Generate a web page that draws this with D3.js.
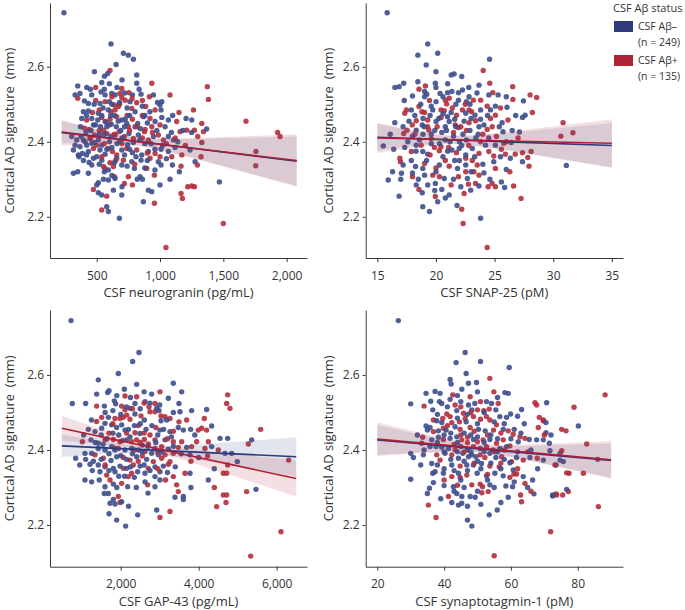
<!DOCTYPE html>
<html><head><meta charset="utf-8">
<script src="https://cdn.jsdelivr.net/npm/d3@7"></script>
<style>
body{margin:0;background:#fff}
svg{display:block}
text{font-family:"Open Sans",sans-serif;fill:#333}
</style>
</head><body>
<svg id="chart" width="685" height="610"></svg>
<script>
// ---------- DATA ----------
const groups = ["neg", "pos"];
const groupLabels = [["CSF A\u03b2\u2013", "(n = 249)"], ["CSF A\u03b2+", "(n = 135)"]];
const legendTitle = "CSF A\u03b2 status";
const yLabel = "Cortical AD signature  (mm)";
const yTicks = [2.2, 2.4, 2.6];

const xLabels = ["CSF neurogranin (pg/mL)", "CSF SNAP-25 (pM)", "CSF GAP-43 (pg/mL)", "CSF synaptotagmin-1 (pM)"];
const neurograninTicks = [500, 1000, 1500, 2000];
const snapTicks = [15, 20, 25, 30, 35];
const gapTicks = [2000, 4000, 6000];
const sytTicks = [20, 40, 60, 80];

const neurograninNeg = [[241,2.744],[613,2.661],[711,2.636],[750,2.631],[790,2.620],[653,2.606],[587,2.582],[561,2.575],[482,2.587],[816,2.578],[350,2.549],[421,2.545],[540,2.558],[534,2.533],[816,2.556],[835,2.540],[850,2.527],[782,2.525],[329,2.525],[368,2.529],[461,2.525],[566,2.525],[619,2.529],[645,2.525],[403,2.509],[434,2.502],[526,2.502],[600,2.507],[763,2.507],[948,2.525],[1014,2.507],[1000,2.498],[1008,2.485],[395,2.480],[434,2.482],[513,2.476],[592,2.485],[803,2.480],[382,2.462],[461,2.462],[508,2.458],[698,2.458],[737,2.449],[824,2.449],[869,2.467],[961,2.454],[1014,2.465],[1066,2.458],[1206,2.462],[1251,2.458],[474,2.445],[803,2.440],[303,2.414],[342,2.405],[376,2.414],[408,2.400],[447,2.409],[513,2.405],[613,2.414],[645,2.418],[755,2.422],[829,2.418],[948,2.414],[1066,2.414],[1106,2.405],[329,2.391],[368,2.387],[421,2.391],[461,2.396],[540,2.391],[316,2.378],[355,2.365],[387,2.369],[434,2.374],[526,2.378],[566,2.367],[698,2.378],[782,2.371],[856,2.365],[908,2.374],[1008,2.380],[1066,2.374],[1119,2.385],[1237,2.378],[1277,2.347],[395,2.350],[474,2.356],[540,2.351],[658,2.356],[777,2.347],[850,2.351],[987,2.347],[316,2.316],[350,2.320],[434,2.316],[461,2.338],[592,2.325],[698,2.338],[798,2.329],[842,2.307],[1008,2.338],[1098,2.338],[1153,2.320],[500,2.285],[513,2.291],[553,2.300],[592,2.298],[645,2.302],[861,2.300],[908,2.271],[935,2.267],[1000,2.285],[1079,2.300],[513,2.264],[540,2.258],[632,2.271],[698,2.258],[579,2.227],[592,2.214],[679,2.196],[869,2.240],[1469,2.293],[1368,2.434],[580,2.440],[680,2.400],[720,2.440],[880,2.395],[640,2.470],[560,2.420],
[372,2.440],[415,2.425],[455,2.430],[490,2.445],[530,2.440],[575,2.452],[615,2.447],[655,2.440],[690,2.430],[725,2.460],[760,2.470],[845,2.435],[900,2.450],[975,2.430],[1040,2.440],[1090,2.425],[395,2.405],[480,2.398],[520,2.420],[600,2.400],[660,2.395],[700,2.410],[745,2.392],[790,2.398],[840,2.405],[930,2.395],[1020,2.390],[1140,2.400],[360,2.360],[420,2.365],[500,2.360],[580,2.380],[620,2.385],[720,2.365],[760,2.380],[810,2.360],[900,2.350],[960,2.380],[1050,2.355],[440,2.345],[520,2.340],[640,2.345],[740,2.335],[880,2.330],[960,2.325],[480,2.500],[550,2.490],[620,2.500],[680,2.505],[740,2.490],[860,2.495],[920,2.480],[560,2.540],[660,2.545],[720,2.530],[450,2.540],[600,2.555],[700,2.565],[610,2.470],[670,2.455],[540,2.470],[420,2.470],[880,2.470],[980,2.505],[1100,2.470],[1180,2.430],[1250,2.425],[560,2.320],[620,2.310],[820,2.300],[700,2.280]];
const neurograninPos = [[605,2.590],[492,2.545],[698,2.542],[755,2.531],[684,2.529],[698,2.518],[935,2.556],[350,2.516],[492,2.510],[566,2.507],[640,2.498],[671,2.494],[724,2.511],[816,2.504],[861,2.510],[887,2.494],[916,2.520],[961,2.485],[1079,2.525],[1150,2.478],[1264,2.485],[466,2.478],[613,2.480],[645,2.485],[777,2.489],[421,2.458],[540,2.465],[566,2.454],[605,2.460],[658,2.467],[782,2.460],[921,2.462],[1132,2.454],[1330,2.449],[403,2.436],[440,2.433],[750,2.440],[882,2.433],[935,2.440],[482,2.418],[553,2.431],[579,2.422],[677,2.427],[719,2.414],[790,2.409],[877,2.427],[908,2.405],[987,2.418],[1027,2.405],[1158,2.427],[1211,2.431],[1272,2.431],[1298,2.414],[1343,2.427],[500,2.391],[474,2.382],[592,2.382],[624,2.374],[658,2.365],[737,2.382],[816,2.378],[961,2.369],[1172,2.365],[1324,2.360],[605,2.344],[711,2.351],[921,2.356],[1093,2.360],[553,2.334],[566,2.329],[632,2.334],[640,2.307],[750,2.307],[895,2.329],[956,2.311],[1166,2.335],[719,2.289],[782,2.285],[474,2.273],[579,2.255],[1219,2.280],[1251,2.282],[1272,2.280],[1166,2.262],[1177,2.249],[540,2.218],[956,2.236],[1374,2.547],[1382,2.513],[1679,2.455],[1500,2.182],[1758,2.374],[1756,2.336],[1929,2.425],[1948,2.414],[1047,2.118],[1330,2.398],[1295,2.338],
[520,2.430],[600,2.445],[640,2.420],[700,2.395],[760,2.430],[820,2.440],[860,2.410],[940,2.425],[1000,2.445],[1050,2.395],[560,2.395],[450,2.410],[680,2.500],[780,2.515],[860,2.470],[900,2.370],[1000,2.360],[1120,2.410],[650,2.350],[800,2.340],[540,2.360],[1200,2.390],[740,2.470],[620,2.520],[520,2.485]];

const snapNeg = [[15.84,2.744],[19.3,2.661],[18.46,2.631],[20.15,2.636],[19.17,2.605],[20.0,2.587],[21.3,2.578],[21.55,2.581],[22.2,2.574],[24.57,2.620],[16.5,2.545],[16.86,2.547],[17.25,2.556],[18.46,2.560],[19.95,2.556],[19.03,2.534],[19.22,2.527],[18.0,2.522],[20.35,2.529],[20.99,2.531],[21.36,2.534],[21.92,2.531],[22.26,2.538],[23.67,2.551],[24.51,2.525],[27.46,2.509],[27.6,2.471],[27.38,2.465],[26.06,2.492],[25.64,2.451],[24.65,2.485],[25.07,2.495],[22.82,2.520],[22.6,2.507],[21.92,2.511],[20.01,2.507],[19.03,2.520],[17.9,2.485],[19.73,2.485],[21.3,2.478],[22.54,2.476],[23.33,2.471],[23.81,2.485],[16.49,2.451],[17.2,2.440],[18.32,2.431],[18.83,2.445],[20.01,2.454],[20.24,2.462],[20.99,2.467],[21.13,2.454],[20.8,2.440],[23.67,2.440],[24.09,2.445],[25.72,2.427],[26.42,2.398],[27.38,2.347],[27.12,2.426],[26.34,2.356],[25.07,2.391],[24.23,2.391],[23.1,2.382],[22.54,2.365],[21.98,2.382],[21.36,2.378],[20.8,2.405],[19.3,2.367],[18.88,2.374],[18.32,2.391],[17.34,2.385],[15.51,2.389],[17.2,2.338],[18.26,2.334],[18.88,2.329],[20.29,2.338],[21.84,2.329],[22.54,2.338],[24.93,2.347],[26.0,2.326],[24.09,2.317],[22.68,2.302],[20.71,2.302],[19.03,2.311],[18.0,2.317],[17.06,2.316],[16.3,2.320],[15.93,2.298],[18.32,2.285],[18.83,2.264],[19.3,2.285],[19.95,2.289],[21.13,2.258],[20.5,2.273],[22.12,2.280],[23.67,2.282],[22.96,2.271],[25.58,2.293],[25.86,2.278],[16.86,2.255],[18.88,2.227],[19.45,2.214],[20.15,2.240],[23.81,2.196],[31.12,2.337],[19.6,2.420],[20.5,2.425],[21.5,2.415],[22.3,2.420],[19.0,2.440],[21.7,2.440],[22.9,2.430],[20.3,2.395],[21.0,2.375],[18.6,2.405],[22.0,2.400],[23.4,2.410],
[18.2,2.470],[18.9,2.462],[19.5,2.470],[20.6,2.475],[21.6,2.460],[22.4,2.455],[23.0,2.462],[23.8,2.460],[24.4,2.470],[17.7,2.455],[18.0,2.415],[18.9,2.420],[19.9,2.430],[20.9,2.430],[21.2,2.400],[22.6,2.405],[23.6,2.420],[24.5,2.410],[25.4,2.440],[17.6,2.400],[18.3,2.375],[19.6,2.395],[20.6,2.360],[21.6,2.350],[22.2,2.390],[23.3,2.360],[24.0,2.340],[17.9,2.350],[19.2,2.350],[20.0,2.320],[21.5,2.300],[23.0,2.320],[19.6,2.495],[20.6,2.520],[21.7,2.500],[22.9,2.500],[23.5,2.530],[18.7,2.500],[17.3,2.510],[20.0,2.545],[21.0,2.555],[22.8,2.545],[26.5,2.430],[26.8,2.470],[25.5,2.360],[24.6,2.300],[19.9,2.270],[20.8,2.250],[21.8,2.230],[17.0,2.300],[16.4,2.380],[16.1,2.420],[26.0,2.520],[25.3,2.525],[18.5,2.300],[22.0,2.350]];
const snapPos = [[24.03,2.590],[19.1,2.549],[18.55,2.540],[24.59,2.556],[24.85,2.531],[26.54,2.547],[26.56,2.513],[28.03,2.525],[28.59,2.518],[28.22,2.478],[26.14,2.458],[25.07,2.471],[24.37,2.495],[23.81,2.511],[23.19,2.511],[21.13,2.516],[20.8,2.511],[20.91,2.501],[19.45,2.510],[17.48,2.485],[17.34,2.476],[18.55,2.494],[19.03,2.478],[20.43,2.485],[20.71,2.483],[21.75,2.471],[22.26,2.485],[22.82,2.485],[23.04,2.480],[17.53,2.431],[17.25,2.422],[17.98,2.445],[18.32,2.456],[19.3,2.458],[19.3,2.440],[19.39,2.431],[20.43,2.465],[21.64,2.445],[21.92,2.438],[22.12,2.440],[22.82,2.451],[23.38,2.456],[24.37,2.433],[24.65,2.462],[25.16,2.414],[25.78,2.396],[25.58,2.380],[25.92,2.367],[26.76,2.367],[27.38,2.371],[28.11,2.374],[27.83,2.358],[27.94,2.335],[24.93,2.362],[24.51,2.374],[23.67,2.369],[22.54,2.356],[21.75,2.371],[21.08,2.385],[20.43,2.387],[20.29,2.376],[19.87,2.385],[18.74,2.391],[17.9,2.374],[16.92,2.356],[16.97,2.347],[19.03,2.342],[21.13,2.335],[23.52,2.338],[25.07,2.329],[23.24,2.320],[22.54,2.320],[21.92,2.307],[23.67,2.311],[20.29,2.307],[19.73,2.311],[18.0,2.307],[18.55,2.273],[21.3,2.285],[22.77,2.287],[23.38,2.289],[22.4,2.262],[24.45,2.280],[24.79,2.289],[25.07,2.280],[26.62,2.282],[27.26,2.249],[19.95,2.254],[22.2,2.220],[22.32,2.182],[30.84,2.451],[30.65,2.415],[31.68,2.424],[24.37,2.118],
[18.2,2.420],[19.6,2.408],[20.1,2.440],[21.5,2.425],[22.6,2.430],[23.8,2.400],[22.8,2.390],[24.0,2.420],[19.5,2.365],[20.8,2.350],[23.1,2.350],[21.4,2.490],[22.5,2.500],[24.8,2.440],[26.0,2.400],[20.0,2.330],[18.8,2.480],[25.5,2.490],[27.0,2.410],[26.3,2.320]];

const gapNeg = [[726,2.745],[2469,2.660],[2306,2.636],[1939,2.604],[1426,2.587],[3349,2.578],[1383,2.549],[1665,2.553],[1700,2.558],[2093,2.562],[2409,2.575],[2794,2.549],[3563,2.555],[759,2.524],[1101,2.524],[1580,2.517],[1836,2.531],[1871,2.523],[2238,2.511],[2366,2.524],[2623,2.529],[2922,2.511],[2982,2.505],[3221,2.538],[3494,2.524],[3520,2.502],[3819,2.505],[4204,2.508],[1683,2.487],[2366,2.496],[2606,2.480],[3178,2.480],[3033,2.478],[3794,2.455],[3606,2.453],[3477,2.460],[4332,2.464],[4546,2.431],[4743,2.431],[4332,2.409],[4674,2.391],[4845,2.391],[3777,2.387],[3691,2.407],[3264,2.449],[3136,2.427],[3007,2.453],[2495,2.444],[2238,2.435],[2110,2.453],[2024,2.467],[1896,2.460],[1768,2.467],[1597,2.471],[1512,2.458],[1341,2.449],[1170,2.455],[1238,2.427],[1426,2.418],[2153,2.427],[2554,2.413],[2879,2.404],[3221,2.402],[2965,2.387],[2794,2.391],[2452,2.400],[2281,2.404],[2110,2.400],[1768,2.409],[1597,2.400],[1426,2.404],[1255,2.391],[1084,2.391],[845,2.378],[1101,2.375],[1751,2.372],[1896,2.382],[2409,2.382],[2665,2.375],[3093,2.357],[2879,2.355],[2495,2.357],[2153,2.351],[1982,2.357],[1811,2.351],[1597,2.355],[1426,2.360],[1213,2.362],[1272,2.345],[1469,2.342],[1853,2.342],[2435,2.342],[2623,2.338],[2879,2.329],[3007,2.342],[3777,2.338],[4247,2.320],[1084,2.320],[1255,2.315],[1597,2.302],[1811,2.309],[2349,2.327],[2178,2.302],[2623,2.315],[2879,2.302],[3007,2.320],[3606,2.276],[3606,2.268],[3392,2.274],[1580,2.284],[1683,2.284],[1811,2.268],[2024,2.262],[1853,2.256],[1726,2.258],[2922,2.240],[2435,2.227],[1897,2.213],[2127,2.197],[5469,2.295],[5358,2.427],[4990,2.369],
[1500,2.440],[1650,2.430],[1800,2.445],[1950,2.440],[2050,2.425],[2200,2.455],[2350,2.465],[2500,2.470],[2650,2.455],[2800,2.465],[2950,2.440],[3100,2.455],[3300,2.435],[1350,2.420],[1550,2.415],[1700,2.390],[1850,2.400],[2000,2.385],[2150,2.375],[2300,2.390],[2550,2.395],[2700,2.410],[2900,2.420],[3050,2.395],[3350,2.410],[3550,2.390],[1300,2.370],[1500,2.375],[1700,2.345],[1950,2.330],[2100,2.330],[2250,2.355],[2600,2.360],[2750,2.345],[3200,2.340],[3400,2.355],[1450,2.320],[1900,2.300],[2400,2.300],[2700,2.285],[1600,2.500],[1800,2.505],[2000,2.495],[2150,2.515],[2500,2.510],[2750,2.525],[3000,2.520],[3350,2.500],[1900,2.545],[2250,2.540],[2600,2.555],[1250,2.480],[1050,2.440],[950,2.360],[3900,2.440],[4000,2.380],[4400,2.350],[3800,2.300],[1700,2.230],[2200,2.250]];
const gapPos = [[2110,2.544],[2409,2.542],[3007,2.555],[1383,2.517],[2024,2.517],[2110,2.507],[2725,2.515],[2879,2.524],[2751,2.502],[2879,2.502],[4743,2.547],[4717,2.524],[4802,2.511],[1383,2.476],[1512,2.487],[1853,2.484],[1982,2.484],[2067,2.487],[2153,2.493],[2238,2.482],[2520,2.491],[3033,2.491],[3136,2.489],[3264,2.484],[3494,2.475],[3691,2.480],[3990,2.453],[4076,2.458],[4204,2.453],[4144,2.484],[4247,2.422],[4503,2.400],[4743,2.360],[4632,2.338],[4717,2.338],[4229,2.384],[4161,2.404],[3819,2.409],[3947,2.422],[3477,2.407],[3563,2.422],[3349,2.422],[2879,2.427],[2751,2.440],[2606,2.428],[2366,2.446],[1016,2.422],[1597,2.427],[1811,2.428],[1982,2.422],[2281,2.422],[2409,2.427],[2708,2.416],[3050,2.409],[3349,2.391],[3136,2.387],[2623,2.396],[1939,2.404],[1341,2.387],[1554,2.378],[2067,2.380],[2238,2.373],[2554,2.384],[2836,2.369],[3050,2.378],[3264,2.369],[2708,2.351],[2324,2.360],[1640,2.333],[2067,2.351],[2281,2.338],[3221,2.362],[3349,2.329],[3648,2.338],[1726,2.320],[2024,2.311],[2195,2.329],[2691,2.307],[3435,2.307],[3477,2.289],[1939,2.276],[1982,2.260],[3264,2.236],[3007,2.220],[4632,2.280],[4717,2.280],[4700,2.260],[4460,2.249],[5230,2.289],[5273,2.416],[5589,2.455],[5333,2.117],[6110,2.182],[6307,2.373],
[1700,2.445],[2150,2.445],[2450,2.465],[2600,2.445],[2900,2.460],[3200,2.430],[1850,2.405],[2350,2.400],[2500,2.420],[2950,2.395],[3350,2.450],[1600,2.360],[2450,2.370],[2950,2.350],[3150,2.320],[2300,2.510],[2600,2.525],[1800,2.470],[3800,2.370],[4400,2.300]];

const sytNeg = [[26.3,2.745],[46.3,2.660],[43.6,2.633],[50.9,2.636],[59.5,2.620],[46.6,2.604],[41.8,2.588],[42.1,2.576],[47.3,2.578],[49.7,2.580],[45.3,2.562],[38.8,2.551],[34.6,2.551],[37.3,2.556],[58.2,2.553],[59.2,2.551],[38.6,2.529],[39.3,2.524],[41.8,2.535],[30.0,2.523],[36.6,2.507],[45.0,2.529],[47.3,2.520],[49.2,2.524],[52.7,2.529],[54.2,2.524],[55.5,2.507],[48.3,2.507],[43.8,2.505],[37.8,2.478],[39.3,2.473],[46.6,2.475],[56.7,2.489],[58.7,2.487],[59.9,2.496],[63.2,2.508],[70.7,2.526],[70.5,2.446],[34.6,2.464],[35.8,2.460],[35.0,2.453],[38.3,2.451],[40.6,2.453],[43.3,2.462],[50.3,2.455],[52.3,2.451],[57.7,2.455],[65.5,2.428],[62.2,2.422],[67.7,2.427],[69.7,2.427],[71.5,2.418],[36.3,2.427],[38.3,2.434],[41.8,2.431],[43.8,2.435],[48.8,2.428],[53.7,2.428],[58.7,2.409],[56.7,2.404],[54.7,2.400],[50.8,2.404],[47.0,2.400],[45.0,2.409],[41.3,2.404],[39.3,2.407],[37.6,2.409],[35.8,2.409],[30.0,2.391],[30.8,2.380],[33.8,2.387],[40.3,2.391],[44.3,2.378],[45.6,2.391],[47.3,2.382],[48.3,2.387],[49.5,2.382],[53.7,2.391],[55.5,2.380],[61.7,2.380],[65.7,2.380],[69.7,2.373],[74.7,2.391],[73.5,2.360],[75.7,2.369],[36.3,2.364],[42.3,2.360],[46.8,2.360],[48.8,2.360],[51.2,2.364],[59.7,2.366],[60.7,2.347],[36.6,2.338],[37.3,2.342],[39.8,2.338],[44.3,2.338],[49.9,2.338],[52.7,2.331],[55.2,2.338],[57.7,2.331],[63.7,2.329],[30.0,2.322],[36.8,2.313],[35.6,2.298],[42.8,2.302],[53.7,2.307],[58.5,2.304],[60.5,2.302],[66.5,2.320],[35.0,2.284],[43.8,2.284],[45.3,2.276],[47.8,2.276],[49.3,2.274],[59.2,2.274],[66.9,2.283],[72.5,2.280],[42.3,2.260],[44.3,2.253],[45.3,2.258],[47.0,2.213],[48.3,2.197],[53.5,2.227],[55.9,2.240],[80.2,2.464],[74.7,2.373],[71.7,2.398],[76.7,2.295],[72.5,2.277],[70.5,2.473],
[38,2.495],[41,2.515],[44,2.485],[47,2.495],[50,2.470],[52,2.500],[55,2.475],[58,2.470],[61,2.455],[40,2.440],[42,2.445],[44,2.420],[46,2.445],[48,2.440],[50,2.435],[52,2.420],[54,2.440],[56,2.430],[60,2.430],[63,2.445],[38,2.420],[40,2.395],[42,2.375],[44,2.395],[46,2.370],[48,2.395],[50,2.370],[52,2.395],[54,2.365],[56,2.395],[58,2.375],[62,2.395],[38,2.360],[40,2.350],[43,2.345],[45,2.320],[47,2.345],[51,2.350],[53,2.320],[57,2.350],[61,2.315],[40,2.305],[43,2.290],[46,2.300],[50,2.290],[55,2.300],[39,2.270],[47,2.250],[51,2.255],[57,2.260],[64,2.470],[66,2.400],[68,2.350],[72,2.440],[34,2.400],[33,2.360],[32,2.440],[36,2.530],[44,2.545],[50,2.555],[56,2.540],[62,2.490],[65,2.300]];
const sytPos = [[53.7,2.591],[42.6,2.547],[47.8,2.542],[54.9,2.555],[43.3,2.520],[34.0,2.517],[50.9,2.529],[53.5,2.509],[51.9,2.505],[56.2,2.524],[50.0,2.507],[45.8,2.498],[40.8,2.496],[39.6,2.484],[36.8,2.480],[41.8,2.489],[42.3,2.473],[44.6,2.475],[46.3,2.484],[48.8,2.489],[50.9,2.482],[52.7,2.489],[53.7,2.480],[67.2,2.526],[67.7,2.520],[68.5,2.487],[69.7,2.478],[68.2,2.460],[75.2,2.455],[76.5,2.451],[36.8,2.449],[39.8,2.458],[44.8,2.455],[47.8,2.460],[54.8,2.453],[55.7,2.467],[59.2,2.451],[60.7,2.442],[62.7,2.435],[64.2,2.431],[33.6,2.434],[33.3,2.418],[39.8,2.428],[45.3,2.427],[47.0,2.434],[50.0,2.422],[51.7,2.427],[55.7,2.418],[57.7,2.427],[59.7,2.411],[52.7,2.409],[48.8,2.409],[43.3,2.400],[37.8,2.387],[38.8,2.373],[42.3,2.387],[50.8,2.387],[52.2,2.380],[57.2,2.382],[60.2,2.369],[63.7,2.373],[67.9,2.378],[76.7,2.339],[44.8,2.357],[53.7,2.357],[56.5,2.355],[61.7,2.336],[42.3,2.329],[44.8,2.327],[46.8,2.333],[59.7,2.327],[60.9,2.336],[44.0,2.306],[48.3,2.307],[50.8,2.309],[51.5,2.302],[64.2,2.311],[41.3,2.276],[51.3,2.286],[53.2,2.289],[62.9,2.280],[73.7,2.280],[75.5,2.280],[63.2,2.262],[35.3,2.253],[37.6,2.220],[71.9,2.182],[55.0,2.118],[88.2,2.547],[78.9,2.514],[82.7,2.416],[86.0,2.375],[81.7,2.338],[77.4,2.338],[75.2,2.398],[73.2,2.360],[77.2,2.289],[73.5,2.283],[86.2,2.249],[69.7,2.480],
[41,2.465],[45,2.440],[49,2.450],[53,2.440],[57,2.445],[43,2.415],[47,2.420],[55,2.395],[58,2.400],[46,2.395],[49,2.365],[57,2.365],[62,2.350],[40,2.320],[53,2.335],[48,2.500],[45,2.515],[65,2.395],[70,2.440],[66,2.290]];

// regression fits: end x, end y, x of narrowest CI, CI half-widths [left end, narrowest, right end]
const neurograninFits = [
  {group:"neg", x:[223,2080], y:[2.426,2.348], mid:800, hw:[0.030,0.010,0.066]},
  {group:"pos", x:[223,2080], y:[2.424,2.350], mid:800, hw:[0.034,0.011,0.070]}
];
const snapFits = [
  {group:"neg", x:[15,35], y:[2.412,2.390], mid:21, hw:[0.036,0.010,0.060]},
  {group:"pos", x:[15,35], y:[2.410,2.396], mid:21.5, hw:[0.040,0.012,0.064]}
];
const gapFits = [
  {group:"neg", x:[490,6500], y:[2.411,2.382], mid:2600, hw:[0.030,0.010,0.052]},
  {group:"pos", x:[490,6500], y:[2.458,2.324], mid:2700, hw:[0.033,0.011,0.048]}
];
const sytFits = [
  {group:"neg", x:[20,90], y:[2.427,2.372], mid:50, hw:[0.040,0.010,0.046]},
  {group:"pos", x:[20,90], y:[2.429,2.374], mid:50, hw:[0.045,0.011,0.050]}
];

// ---------- STYLE / LAYOUT ----------
const pointColor = {neg:"#3d4e8c", pos:"#b42d3c"};
const lineColor = {neg:"#2c3a80", pos:"#b01f33"};
const swatchColor = {neg:"#2e3a7c", pos:"#ab2335"};
const axisColor = "#3a3a3a";

const panels = [
  {neg:neurograninNeg, pos:neurograninPos, fits:neurograninFits, ticks:neurograninTicks, label:xLabels[0], box:[50,307,3,258], xDom:[131,2161], yDom:[2.09,2.77], fmt:d3.format(","), yl:14},
  {neg:snapNeg, pos:snapPos, fits:snapFits, ticks:snapTicks, label:xLabels[1], box:[365.7,623,3,258], xDom:[14.01,35.95], yDom:[2.09,2.77], fmt:d3.format("d"), yl:333},
  {neg:gapNeg, pos:gapPos, fits:gapFits, ticks:gapTicks, label:xLabels[2], box:[50,307,310,566.7], xDom:[187,6777], yDom:[2.0888,2.7733], fmt:d3.format(","), yl:14},
  {neg:sytNeg, pos:sytPos, fits:sytFits, ticks:sytTicks, label:xLabels[3], box:[365.7,623,310,566.7], xDom:[16.53,93.56], yDom:[2.0888,2.7733], fmt:d3.format("d"), yl:333}
];

const svg = d3.select("#chart");

function bandSamples(f) {
  const [x0, x1] = f.x, [y0, y1] = f.y, [hL, h0, hR] = f.hw;
  const kL = Math.sqrt(Math.max(hL*hL - h0*h0, 0)) / (f.mid - x0);
  const kR = Math.sqrt(Math.max(hR*hR - h0*h0, 0)) / (x1 - f.mid);
  const n = 60, out = [];
  for (let i = 0; i <= n; i++) {
    const x = x0 + (x1 - x0) * i / n;
    const yc = y0 + (y1 - y0) * (x - x0) / (x1 - x0);
    const k = x < f.mid ? kL : kR;
    const h = Math.sqrt(h0*h0 + k*k*(x - f.mid)*(x - f.mid));
    out.push({x, lo: yc - h, hi: yc + h});
  }
  return out;
}

panels.forEach(p => {
  const [L, R, T, B] = p.box;
  const x = d3.scaleLinear().domain(p.xDom).range([L, R]);
  const y = d3.scaleLinear().domain(p.yDom).range([B, T]);
  const g = svg.append("g");

  const pts = [];
  const n = Math.max(p.neg.length, p.pos.length);
  for (let i = 0; i < n; i++) {
    if (i < p.neg.length) pts.push({v:p.neg[i], g:"neg"});
    if (i < p.pos.length) pts.push({v:p.pos[i], g:"pos"});
  }
  g.append("g").selectAll("circle").data(pts).join("circle")
    .attr("cx", d => x(d.v[0])).attr("cy", d => y(d.v[1])).attr("r", 2.7)
    .attr("fill", d => pointColor[d.g]).attr("fill-opacity", 0.9);

  const area = d3.area().x(d => x(d.x)).y0(d => y(d.lo)).y1(d => y(d.hi));
  p.fits.forEach(f => {
    g.append("path").datum(bandSamples(f)).attr("d", area)
      .attr("fill", pointColor[f.group]).attr("fill-opacity", 0.15);
  });
  p.fits.forEach(f => {
    g.append("line").attr("x1", x(f.x[0])).attr("x2", x(f.x[1]))
      .attr("y1", y(f.y[0])).attr("y2", y(f.y[1]))
      .attr("stroke", lineColor[f.group]).attr("stroke-width", 1.6);
  });

  const xa = g.append("g").attr("transform", `translate(0,${B})`)
    .call(d3.axisBottom(x).tickValues(p.ticks).tickFormat(p.fmt).tickSize(4).tickSizeOuter(0).tickPadding(9));
  const ya = g.append("g").attr("transform", `translate(${L},0)`)
    .call(d3.axisLeft(y).tickValues(yTicks).tickFormat(d3.format(".1f")).tickSize(3).tickSizeOuter(0).tickPadding(3));
  [xa, ya].forEach(a => {
    a.selectAll("path,line").attr("stroke", axisColor);
    a.selectAll("text").attr("font-size", 12).attr("fill", "#333").style("font-family", '"Open Sans",sans-serif');
  });

  g.append("text").attr("x", (L + R) / 2).attr("y", B + 39).attr("text-anchor", "middle")
    .attr("font-size", 13).text(p.label);
  g.append("text").attr("transform", `translate(${p.yl},${(T + B) / 2}) rotate(-90)`)
    .attr("text-anchor", "middle").attr("font-size", 13).style("white-space", "pre").text(yLabel);
});

const lg = svg.append("g");
lg.append("text").attr("x", 613).attr("y", 12).attr("font-size", 11).text(legendTitle);
groups.forEach((gr, i) => {
  const top = 21 + i * 34;
  lg.append("rect").attr("x", 614).attr("y", top).attr("width", 19).attr("height", 11).attr("fill", swatchColor[gr]);
  lg.append("text").attr("x", 638).attr("y", top + 9).attr("font-size", 10.5).text(groupLabels[i][0]);
  lg.append("text").attr("x", 638).attr("y", top + 25).attr("font-size", 10.5).text(groupLabels[i][1]);
});
</script>
</body></html>
